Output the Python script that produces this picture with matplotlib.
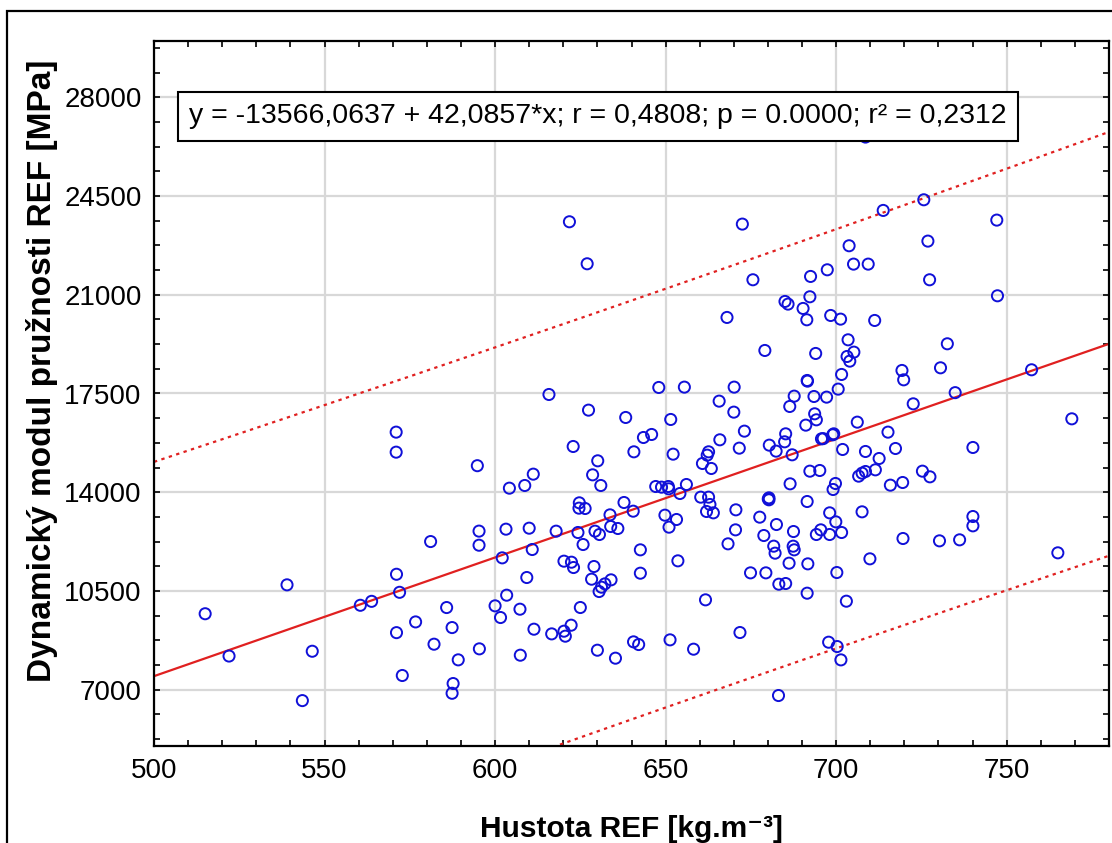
import numpy as np
import matplotlib
matplotlib.use("Agg")
import matplotlib.pyplot as plt
from matplotlib.ticker import MultipleLocator
from matplotlib.patches import Rectangle

plt.rcParams['font.family'] = ['Liberation Sans', 'DejaVu Sans']

# Hustota REF [kg.m-3] vs dynamicky modul pruznosti REF [MPa]
hustota = [
    515.0, 522.0, 539.0, 543.5, 546.4, 560.5, 563.8, 571.0, 571.0, 594.8,
    581.1, 595.3, 595.3, 571.1, 572.0, 585.8, 576.7, 587.4, 571.1, 582.1,
    595.4, 589.2, 572.8, 587.7, 587.4,
    615.8, 627.4, 638.3, 648.0, 655.5, 670.1, 665.7, 670.0, 651.5, 643.5,
    645.9, 673.1, 665.9, 671.6, 680.4, 682.4, 622.9, 640.7, 652.2, 630.1,
    628.6, 631.0, 611.2, 608.7, 604.2, 662.2, 662.6, 660.8, 663.4, 647.1,
    648.8, 650.8, 650.9, 656.1, 654.2, 660.3, 662.6, 663.0, 662.0, 664.0,
    670.6, 624.7, 624.6, 626.4, 637.8, 640.5, 633.7, 633.9, 636.0, 649.8,
    653.2, 651.0, 603.2, 610.0, 617.9, 624.3, 629.3, 630.6, 625.8, 610.9,
    602.1, 620.2, 622.4, 623.0, 629.0, 642.6, 642.6, 653.6, 609.3, 628.3,
    634.0, 632.2, 631.2, 630.5, 603.4, 600.0, 601.6, 607.3, 625.0, 611.4,
    616.6, 620.2, 620.6, 622.3, 607.4, 630.0, 635.3, 640.6, 642.1, 651.3,
    658.2, 661.7, 671.8, 674.9, 679.4, 670.5, 668.3, 677.6, 678.8, 680.3,
    680.3, 680.1, 682.5, 681.7, 682.1, 683.2, 683.1,
    691.6, 719.8, 700.6, 687.7, 693.5, 697.2, 686.4, 693.7, 694.2, 691.1,
    706.2, 722.6, 734.9, 769.1, 685.2, 684.9, 695.7, 696.2, 699.0, 699.3,
    687.1, 701.9, 708.6, 715.2, 717.4, 712.6, 740.1, 692.3, 695.2, 711.5,
    706.6, 707.6, 708.6, 725.3, 727.5, 686.5, 699.8, 699.1, 715.9, 719.5,
    691.5, 698.1, 699.9, 707.6, 687.5, 694.2, 695.5, 698.1, 701.6, 687.4,
    687.7, 686.2, 691.7, 700.2, 709.9, 719.6, 730.3, 736.2, 740.1, 740.1,
    765.0, 685.2, 691.5, 703.0, 697.8, 700.3, 701.4,
    621.8, 627.0, 672.5, 675.6, 668.0, 679.1,
    708.6, 725.7, 713.8, 747.1, 703.8, 726.9, 705.1, 709.4, 697.4, 692.5,
    727.4, 747.3, 692.3, 685.0, 685.9, 690.3, 691.4, 698.4, 701.3, 711.3,
    703.5, 694.0, 703.2, 705.2, 704.0, 732.6, 719.3, 730.6, 757.3, 691.5,
    701.6,
]
modul = [
    9690, 8190, 10715, 6610, 8360, 9990, 10130, 16130, 15420, 14940,
    12250, 12620, 12120, 11090, 10450, 9910, 9400, 9200, 9020, 8610,
    8445, 8055, 7500, 7215, 6870,
    17465, 16910, 16650, 17714, 17726, 17726, 17229, 16839, 16579, 15940,
    16047, 16165, 15858, 15562, 15668, 15456, 15621, 15432, 15349, 15113,
    14616, 14238, 14640, 14238, 14143, 15314, 15432, 15018, 14841, 14202,
    14179, 14202, 14120, 14273, 13954, 13824, 13824, 13564, 13316, 13268,
    13375, 13623, 13434, 13422, 13635, 13327, 13197, 12784, 12713, 13185,
    13032, 12760, 12689, 12724, 12618, 12571, 12618, 12500, 12145, 11968,
    11672, 11554, 11518, 11329, 11365, 11956, 11128, 11566, 10975, 10915,
    10892, 10750, 10632, 10478, 10348, 9970, 9556, 9851, 9911, 9142,
    8976, 9071, 8894, 9284, 8220, 8397, 8114, 8693, 8598, 8764,
    8433, 10183, 9024, 11140, 11140, 12665, 12169, 13115, 12464, 13800,
    13730, 13760, 12854, 12086, 11838, 10738, 6790,
    17938, 17985, 17655, 17406, 17394, 17371, 17040, 16780, 16567, 16378,
    16484, 17134, 17530, 16602, 16070, 15787, 15893, 15900, 16035, 16070,
    15326, 15515, 15444, 16130, 15550, 15195, 15586, 14746, 14770, 14793,
    14569, 14675, 14734, 14746, 14545, 14297, 14309, 14096, 14250, 14344,
    13670, 13268, 12949, 13304, 12606, 12500, 12665, 12500, 12571, 12086,
    11956, 11483, 11459, 11152, 11637, 12358, 12275, 12311, 13138, 12807,
    11850, 10762, 10419, 10135, 8681, 8527, 8054,
    23590, 22100, 23507, 21533, 20197, 19026,
    26593, 24370, 23992, 23649, 22739, 22904, 22088, 22088, 21887, 21651,
    21533, 20965, 20930, 20764, 20670, 20516, 20114, 20267, 20137, 20090,
    19404, 18920, 18813, 18967, 18648, 19263, 18317, 18411, 18341, 17962,
    18175,
]

# regression from the chart
b0 = -13566.0637
b1 = 42.0857
s_rez = 3760  # residual std. error
popis = "y = -13566,0637 + 42,0857*x; r = 0,4808; p = 0.0000; r² = 0,2312"

x = np.array(hustota)
y = np.array(modul)
n = len(x)

# 95% prediction band
xs = np.linspace(500, 780, 300)
fit = b0 + b1 * xs
sxx = np.sum((x - x.mean()) ** 2)
half = 1.97 * s_rez * np.sqrt(1 + 1 / n + (xs - x.mean()) ** 2 / sxx)

fig = plt.figure(figsize=(11.12, 8.43), dpi=100)
ax = fig.add_axes([154 / 1112, 1 - 746 / 843, 955 / 1112, 705 / 843])

ax.scatter(x, y, s=64, facecolors='none', edgecolors='#1010D8', linewidths=1.4, zorder=3)
ax.plot(xs, fit, color='#E02020', lw=1.6, zorder=2)
ax.plot(xs, fit + half, color='#E02020', lw=1.6, ls=(0, (1.5, 2)), zorder=2)
ax.plot(xs, fit - half, color='#E02020', lw=1.6, ls=(0, (1.5, 2)), zorder=2)

ax.set_xlim(500, 780)
ax.set_ylim(5000, 30000)
ax.xaxis.set_major_locator(MultipleLocator(50))
ax.xaxis.set_minor_locator(MultipleLocator(10))
ax.set_yticks([7000, 10500, 14000, 17500, 21000, 24500, 28000])
ax.yaxis.set_minor_locator(MultipleLocator(875))
ax.grid(True, which='major', color='#D8D8D8', lw=1.6, zorder=0)
ax.set_axisbelow(True)
ax.tick_params(which='both', direction='in', top=True, right=True, length=4,
               width=1.2, labelsize=20, pad=9)
for sp in ax.spines.values():
    sp.set_linewidth(1.6)

ax.set_xlabel("Hustota REF [kg.m⁻³]", fontsize=21.5, fontweight='bold', labelpad=22)
ax.set_ylabel("Dynamický modul pružnosti REF [MPa]", fontsize=24, fontweight='bold')
ax.yaxis.set_label_coords(-0.1, 0.532)

ax.text(0.037, 0.893, popis, transform=ax.transAxes, fontsize=20.5, ha='left', va='center',
        bbox=dict(boxstyle='square,pad=0.4', facecolor='white', edgecolor='black', lw=1.5),
        zorder=5)

# outer frame
fig.patches.append(Rectangle((7 / 1112, -0.1), 1.2, 1 - 11 / 843 + 0.1, transform=fig.transFigure,
                             fill=False, edgecolor='black', lw=1.6))

fig.savefig("out.png", dpi=100)
